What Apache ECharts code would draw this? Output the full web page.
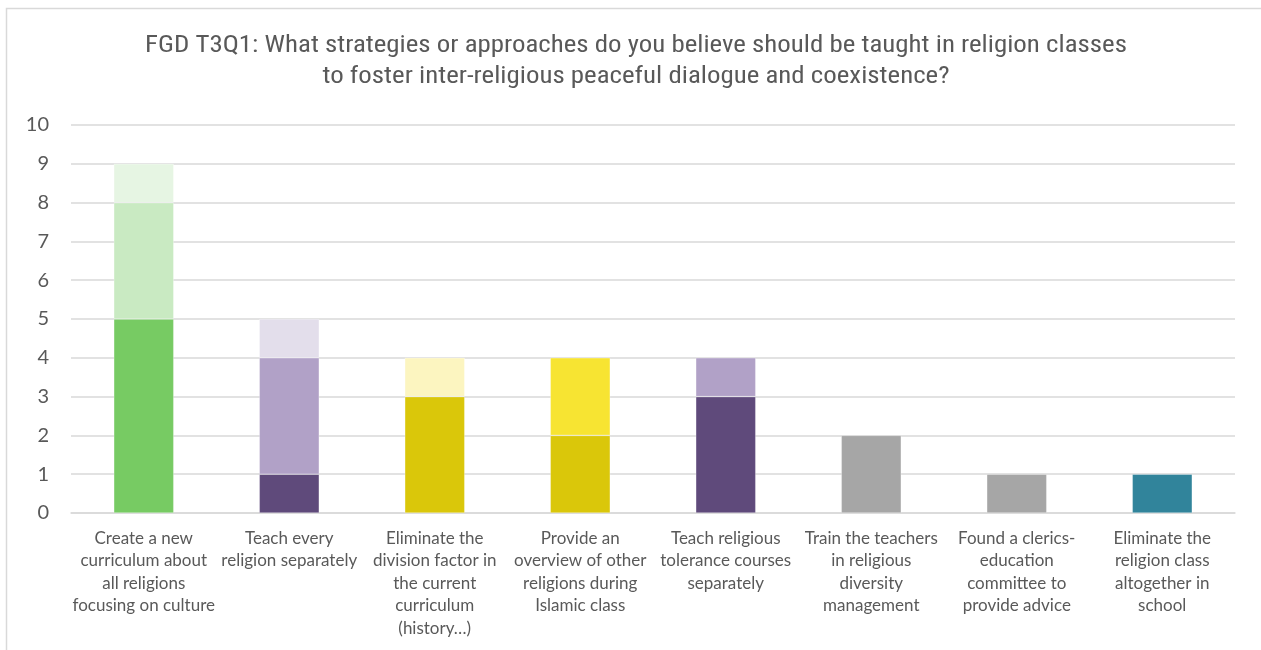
<!DOCTYPE html>
<html>
<head>
<meta charset="utf-8">
<script src="https://cdn.jsdelivr.net/npm/echarts@6/dist/echarts.min.js"></script>
<style>
  html, body { margin: 0; padding: 0; background: #ffffff; }
  #chart { width: 1261px; height: 650px; }
</style>
</head>
<body>
<div id="chart"></div>
<script>
// Response categories (wrapped as they appear under the axis)
const categories = [
  'Create a new\ncurriculum about\nall religions\nfocusing on culture',
  'Teach every\nreligion separately',
  'Eliminate the\ndivision factor in\nthe current\ncurriculum\n(history…)',
  'Provide an\noverview of other\nreligions during\nIslamic class',
  'Teach religious\ntolerance courses\nseparately',
  'Train the teachers\nin religious\ndiversity\nmanagement',
  'Found a clerics-\neducation\ncommittee to\nprovide advice',
  'Eliminate the\nreligion class\naltogether in\nschool'
];

// Stacked counts per category, bottom segment first
const layer1 = [5, 1, 3, 2, 3, 2, 1, 1];
const layer2 = [3, 3, 1, 2, 1, null, null, null];
const layer3 = [1, 1, null, null, null, null, null, null];

const yTicks = [0, 1, 2, 3, 4, 5, 6, 7, 8, 9, 10];

const titleText = 'FGD T3Q1: What strategies or approaches do you believe should be taught in religion classes\nto foster inter-religious peaceful dialogue and coexistence?';

// Segment fills, one per category for each layer
const layer1Colors = ['#77CB63', '#5F4A7B', '#DAC70A', '#DAC70A', '#5F4A7B', '#A6A6A6', '#A6A6A6', '#31849B'];
const layer2Colors = ['#C9EAC2', '#B1A1C7', '#FCF5C0', '#F7E432', '#B1A1C7', '#A6A6A6', '#A6A6A6', '#31849B'];
const layer3Colors = ['#E6F5E3', '#E3DEEB', '#FCF5C0', '#F7E432', '#B1A1C7', '#A6A6A6', '#A6A6A6', '#31849B'];

const textColor = '#595959';
const gridColor = '#D9D9D9';
const bodyFont = 'Lato, "Open Sans", "Liberation Sans", sans-serif';

function colored(values, colors) {
  return values.map((v, i) => ({ value: v, itemStyle: { color: colors[i] } }));
}

function layerSeries(name, values, colors) {
  return {
    name: name,
    type: 'bar',
    stack: 'total',
    barWidth: 60,
    data: colored(values, colors),
    itemStyle: { borderColor: 'rgba(255,255,255,0.5)', borderWidth: 0.6 }
  };
}

const chart = echarts.init(document.getElementById('chart'), null, { renderer: 'canvas' });

chart.setOption({
  animation: false,
  backgroundColor: '#ffffff',
  graphic: [
    {
      // outer chart frame
      type: 'rect',
      silent: true,
      shape: { x: 6.5, y: 8.5, width: 1300, height: 700 },
      style: { fill: 'none', stroke: gridColor, lineWidth: 1.5 }
    },
    {
      // two-line chart title, slightly widened
      type: 'text',
      silent: true,
      x: 636,
      y: 30,
      scaleX: 1.12,
      style: {
        text: titleText,
        fill: textColor,
        font: '400 24px "Roboto Condensed", Roboto, sans-serif',
        align: 'center',
        verticalAlign: 'top',
        lineHeight: 31
      }
    }
  ],
  grid: { left: 71, right: 26, top: 125, bottom: 137, containLabel: false },
  xAxis: {
    type: 'category',
    data: categories,
    axisTick: { show: false },
    axisLine: { lineStyle: { color: gridColor, width: 1.5 } },
    axisLabel: {
      interval: 0,
      margin: 14,
      color: textColor,
      fontFamily: bodyFont,
      fontSize: 17,
      lineHeight: 22.5
    }
  },
  yAxis: {
    type: 'value',
    min: yTicks[0],
    max: yTicks[yTicks.length - 1],
    interval: 1,
    axisLine: { show: false },
    axisTick: { show: false },
    splitLine: { lineStyle: { color: gridColor, width: 1.5 } },
    axisLabel: {
      margin: 22,
      color: textColor,
      fontFamily: bodyFont,
      fontSize: 20
    }
  },
  series: [
    layerSeries('Layer 1', layer1, layer1Colors),
    layerSeries('Layer 2', layer2, layer2Colors),
    layerSeries('Layer 3', layer3, layer3Colors)
  ]
});
</script>
</body>
</html>
